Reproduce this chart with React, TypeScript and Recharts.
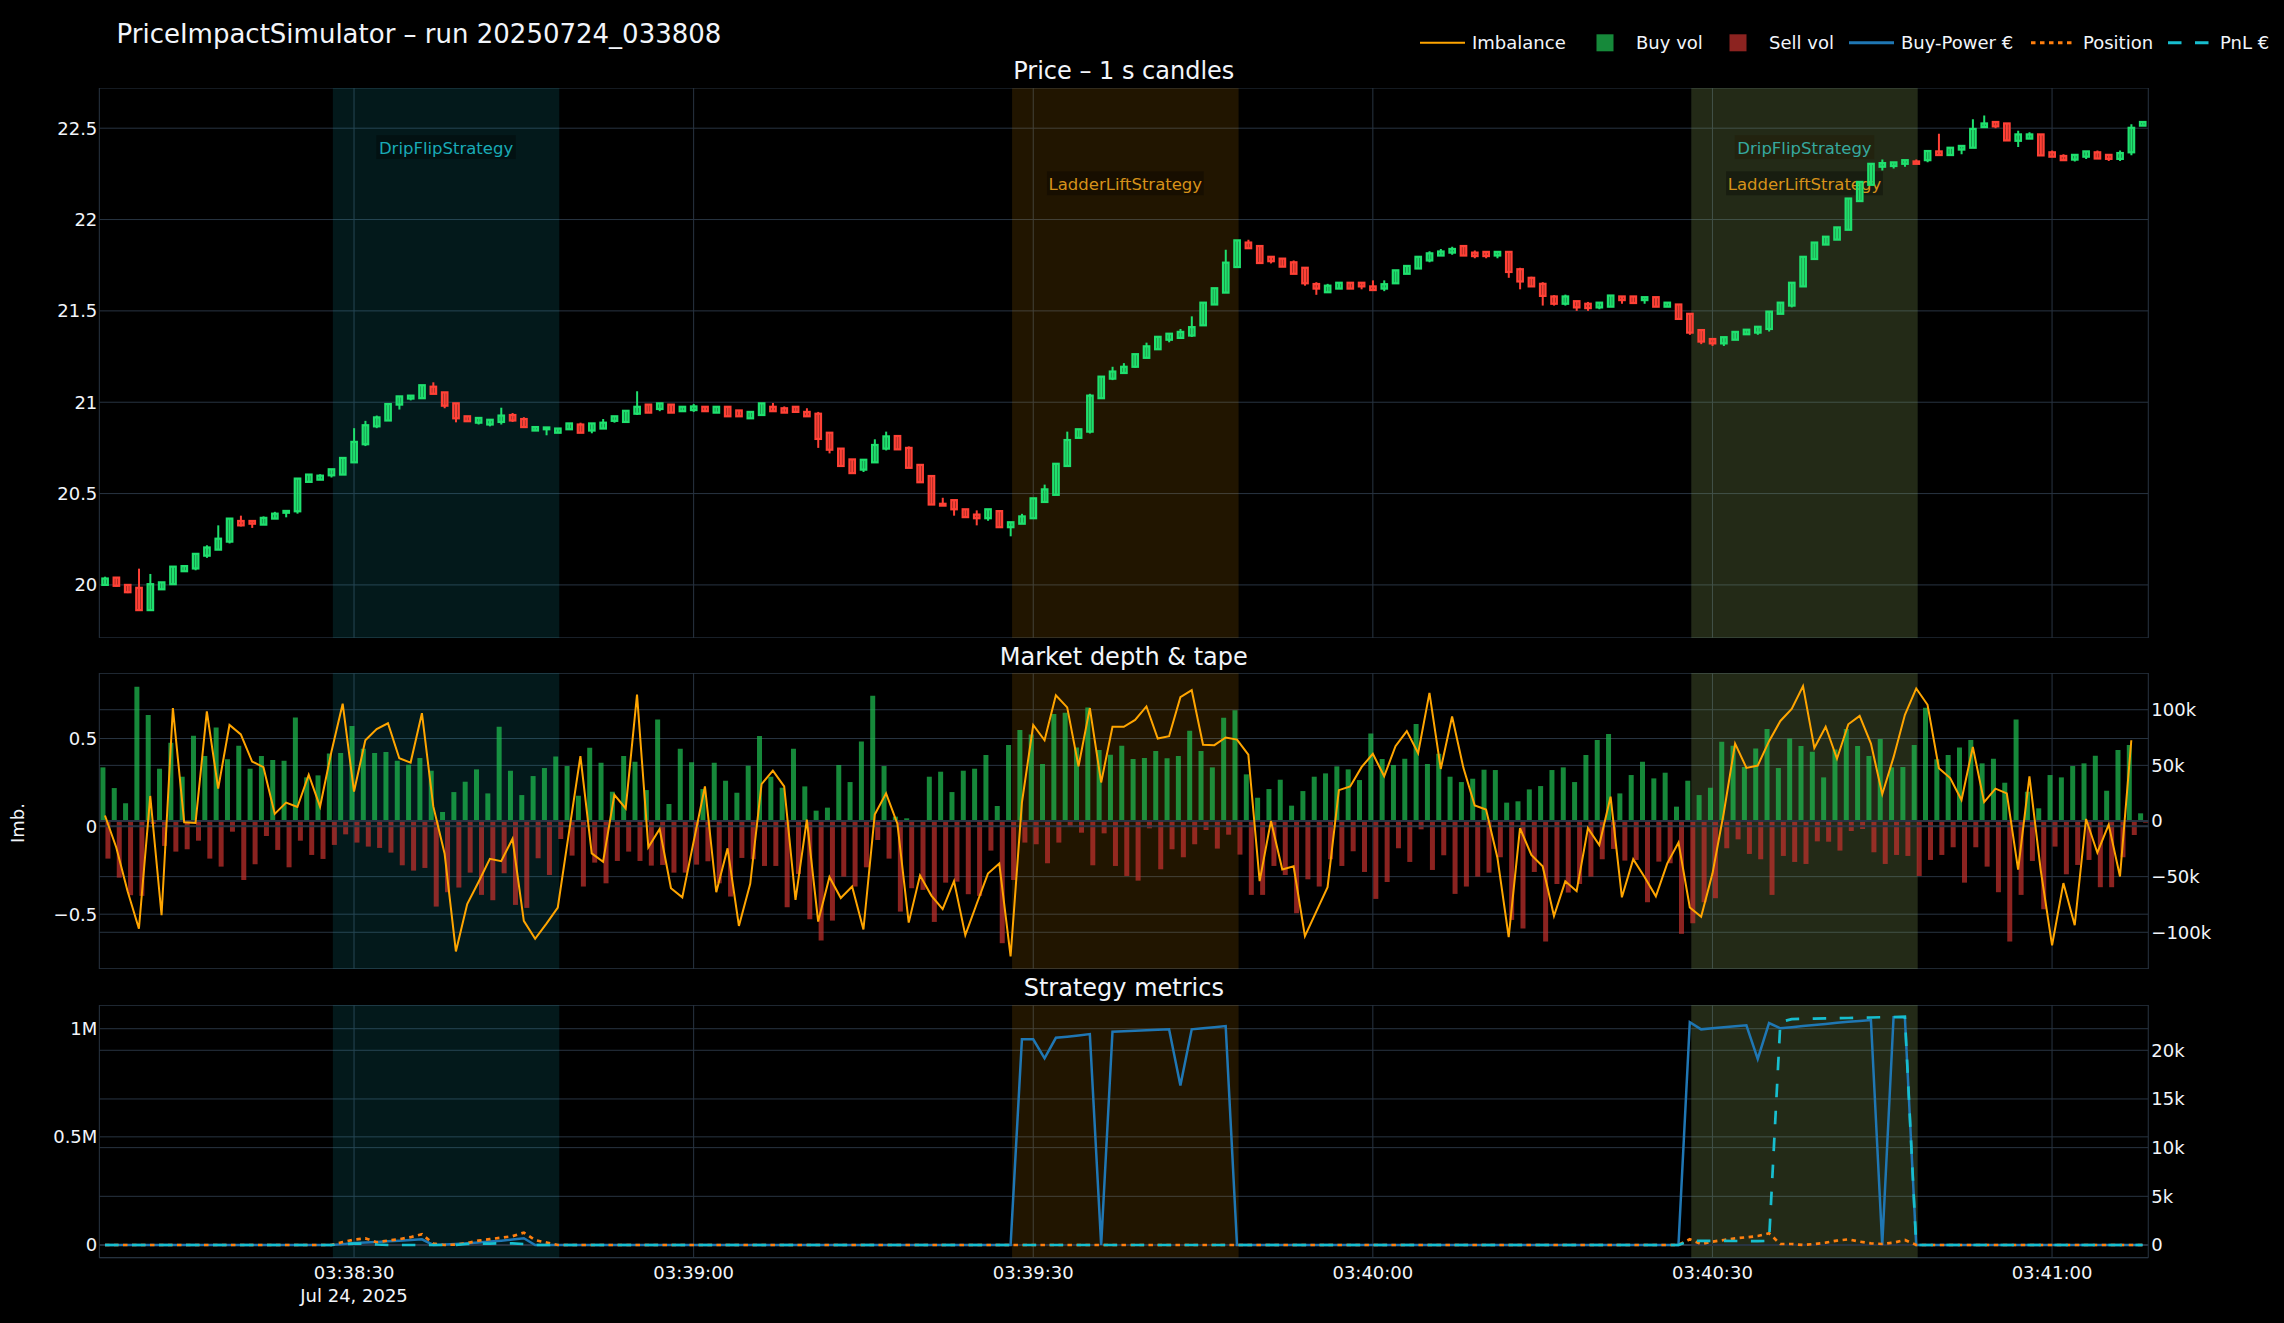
import React from 'react'
import {
  Bar,
  CartesianGrid,
  ComposedChart,
  Line,
  ReferenceArea,
  ReferenceLine,
  XAxis,
  YAxis,
} from 'recharts'

// x = seconds since 03:38:08, Jul 24 2025 (1 s candles)
const timeTicks = [22, 52, 82, 112, 142, 172]
const timeLabels = ['03:38:30', '03:39:00', '03:39:30', '03:40:00', '03:40:30', '03:41:00']
const dateLabel = 'Jul 24, 2025'

const openPx = [
  20.000, 20.040, 20.000, 19.984, 19.862, 19.976, 20.004, 20.075, 20.090, 20.160,
  20.193, 20.237, 20.350, 20.350, 20.330, 20.363, 20.395, 20.403, 20.564, 20.576,
  20.600, 20.604, 20.671, 20.770, 20.868, 20.900, 20.987, 21.020, 21.022, 21.085,
  21.054, 20.994, 20.923, 20.888, 20.878, 20.892, 20.930, 20.908, 20.845, 20.852,
  20.833, 20.852, 20.878, 20.845, 20.856, 20.898, 20.892, 20.937, 20.987, 20.963,
  20.987, 20.951, 20.957, 20.975, 20.943, 20.975, 20.955, 20.912, 20.930, 20.975,
  20.967, 20.975, 20.947, 20.937, 20.833, 20.746, 20.687, 20.631, 20.671, 20.746,
  20.815, 20.750, 20.657, 20.596, 20.444, 20.464, 20.414, 20.385, 20.365, 20.404,
  20.316, 20.335, 20.365, 20.454, 20.493, 20.651, 20.805, 20.839, 21.022, 21.129,
  21.160, 21.194, 21.243, 21.290, 21.342, 21.352, 21.365, 21.421, 21.535, 21.600,
  21.740, 21.874, 21.855, 21.796, 21.786, 21.766, 21.736, 21.647, 21.602, 21.622,
  21.654, 21.654, 21.634, 21.622, 21.651, 21.703, 21.732, 21.776, 21.803, 21.819,
  21.855, 21.819, 21.823, 21.803, 21.823, 21.728, 21.681, 21.648, 21.579, 21.539,
  21.553, 21.539, 21.519, 21.523, 21.579, 21.579, 21.559, 21.575, 21.523, 21.535,
  21.484, 21.395, 21.346, 21.322, 21.342, 21.372, 21.381, 21.401, 21.484, 21.529,
  21.634, 21.784, 21.863, 21.890, 21.944, 22.101, 22.190, 22.289, 22.293, 22.305,
  22.318, 22.325, 22.373, 22.353, 22.383, 22.393, 22.506, 22.534, 22.526, 22.431,
  22.443, 22.466, 22.368, 22.348, 22.328, 22.344, 22.368, 22.354, 22.332, 22.368, 22.514,
]
const highPx = [
  20.045, 20.040, 20.000, 20.089, 20.060, 20.014, 20.100, 20.103, 20.170, 20.217,
  20.326, 20.363, 20.379, 20.350, 20.375, 20.400, 20.405, 20.582, 20.604, 20.606,
  20.633, 20.695, 20.858, 20.898, 20.927, 20.990, 21.032, 21.036, 21.093, 21.109,
  21.054, 20.994, 20.923, 20.914, 20.904, 20.970, 20.941, 20.918, 20.864, 20.862,
  20.856, 20.884, 20.888, 20.884, 20.908, 20.923, 20.953, 21.060, 20.987, 20.994,
  20.987, 20.975, 20.990, 20.975, 20.975, 20.975, 20.955, 20.947, 20.994, 20.996,
  20.977, 20.975, 20.967, 20.947, 20.833, 20.746, 20.687, 20.685, 20.797, 20.839,
  20.815, 20.758, 20.657, 20.596, 20.477, 20.464, 20.414, 20.408, 20.414, 20.404,
  20.343, 20.389, 20.474, 20.549, 20.663, 20.839, 20.852, 21.046, 21.140, 21.194,
  21.214, 21.263, 21.326, 21.358, 21.375, 21.401, 21.470, 21.545, 21.624, 21.835,
  21.886, 21.890, 21.855, 21.796, 21.786, 21.776, 21.736, 21.657, 21.648, 21.654,
  21.654, 21.654, 21.667, 21.667, 21.722, 21.746, 21.796, 21.827, 21.839, 21.851,
  21.855, 21.831, 21.823, 21.823, 21.823, 21.736, 21.687, 21.657, 21.586, 21.589,
  21.553, 21.549, 21.545, 21.584, 21.579, 21.579, 21.575, 21.575, 21.545, 21.535,
  21.484, 21.395, 21.346, 21.356, 21.385, 21.397, 21.413, 21.496, 21.545, 21.654,
  21.796, 21.874, 21.906, 21.957, 22.115, 22.206, 22.305, 22.328, 22.313, 22.325,
  22.328, 22.375, 22.470, 22.393, 22.403, 22.549, 22.569, 22.534, 22.526, 22.486,
  22.478, 22.466, 22.378, 22.358, 22.354, 22.373, 22.378, 22.354, 22.378, 22.522, 22.534,
]
const lowPx = [
  20.000, 19.990, 19.955, 19.860, 19.860, 19.976, 20.004, 20.075, 20.080, 20.148,
  20.193, 20.227, 20.320, 20.312, 20.330, 20.363, 20.370, 20.390, 20.564, 20.576,
  20.588, 20.604, 20.671, 20.760, 20.858, 20.900, 20.960, 21.010, 21.022, 21.046,
  20.967, 20.890, 20.896, 20.878, 20.868, 20.878, 20.892, 20.864, 20.845, 20.819,
  20.833, 20.852, 20.833, 20.830, 20.856, 20.888, 20.892, 20.930, 20.943, 20.951,
  20.943, 20.951, 20.947, 20.951, 20.943, 20.923, 20.923, 20.912, 20.930, 20.951,
  20.943, 20.943, 20.923, 20.750, 20.720, 20.651, 20.612, 20.618, 20.671, 20.736,
  20.742, 20.641, 20.562, 20.440, 20.434, 20.379, 20.371, 20.326, 20.351, 20.316,
  20.266, 20.335, 20.365, 20.454, 20.493, 20.651, 20.805, 20.829, 21.022, 21.121,
  21.160, 21.188, 21.243, 21.290, 21.328, 21.352, 21.357, 21.421, 21.535, 21.600,
  21.740, 21.843, 21.762, 21.760, 21.742, 21.703, 21.638, 21.588, 21.602, 21.622,
  21.622, 21.618, 21.614, 21.608, 21.651, 21.703, 21.732, 21.766, 21.803, 21.807,
  21.803, 21.788, 21.788, 21.788, 21.681, 21.618, 21.634, 21.529, 21.529, 21.529,
  21.500, 21.500, 21.509, 21.523, 21.539, 21.543, 21.539, 21.523, 21.523, 21.456,
  21.369, 21.318, 21.308, 21.308, 21.342, 21.372, 21.369, 21.387, 21.484, 21.519,
  21.634, 21.784, 21.863, 21.890, 21.944, 22.101, 22.190, 22.269, 22.279, 22.289,
  22.305, 22.313, 22.353, 22.353, 22.357, 22.393, 22.506, 22.500, 22.433, 22.397,
  22.443, 22.351, 22.344, 22.325, 22.318, 22.332, 22.334, 22.320, 22.320, 22.352, 22.514,
]
const closePx = [
  20.035, 19.995, 19.960, 19.862, 20.004, 20.014, 20.100, 20.103, 20.170, 20.205,
  20.253, 20.363, 20.326, 20.335, 20.367, 20.390, 20.405, 20.582, 20.604, 20.598,
  20.633, 20.695, 20.783, 20.874, 20.917, 20.990, 21.032, 21.036, 21.093, 21.046,
  20.981, 20.912, 20.896, 20.914, 20.904, 20.927, 20.900, 20.864, 20.864, 20.862,
  20.856, 20.884, 20.833, 20.884, 20.888, 20.923, 20.953, 20.975, 20.943, 20.994,
  20.943, 20.975, 20.977, 20.951, 20.975, 20.923, 20.923, 20.947, 20.994, 20.951,
  20.943, 20.947, 20.923, 20.799, 20.740, 20.651, 20.612, 20.685, 20.766, 20.813,
  20.742, 20.641, 20.562, 20.440, 20.434, 20.414, 20.371, 20.365, 20.414, 20.316,
  20.343, 20.375, 20.474, 20.523, 20.663, 20.793, 20.852, 21.036, 21.140, 21.168,
  21.194, 21.263, 21.306, 21.358, 21.375, 21.385, 21.411, 21.545, 21.624, 21.764,
  21.886, 21.843, 21.762, 21.772, 21.742, 21.703, 21.651, 21.622, 21.638, 21.654,
  21.622, 21.634, 21.614, 21.646, 21.722, 21.746, 21.796, 21.815, 21.825, 21.839,
  21.803, 21.800, 21.800, 21.823, 21.713, 21.661, 21.634, 21.582, 21.539, 21.579,
  21.519, 21.515, 21.545, 21.584, 21.559, 21.543, 21.575, 21.523, 21.545, 21.456,
  21.381, 21.332, 21.322, 21.356, 21.385, 21.397, 21.413, 21.496, 21.545, 21.654,
  21.796, 21.874, 21.906, 21.957, 22.115, 22.206, 22.305, 22.309, 22.313, 22.325,
  22.305, 22.375, 22.353, 22.393, 22.403, 22.496, 22.526, 22.510, 22.433, 22.466,
  22.466, 22.351, 22.344, 22.325, 22.354, 22.373, 22.334, 22.332, 22.364, 22.502, 22.534,
]

// tape volume, thousands
const buyVol = [
  48.2, 29.6, 15.9, 120.6, 95.2, 47.0, 70.3, 39.8, 76.6, 58.3,
  84.1, 55.4, 67.6, 47.0, 58.3, 54.8, 54.2, 93.1, 39.2, 41.0,
  60.7, 61.0, 85.3, 64.9, 61.0, 61.9, 54.2, 50.6, 56.6, 45.2,
  8.1, 26.0, 35.3, 46.4, 24.8, 84.7, 45.2, 23.3, 40.4, 47.6,
  58.0, 49.4, 22.7, 65.8, 52.4, 26.3, 58.3, 53.3, 27.8, 91.3,
  15.3, 64.9, 52.7, 28.7, 52.4, 36.2, 25.4, 49.7, 76.3, 39.8,
  29.9, 64.9, 31.1, 9.3, 12.0, 50.3, 35.0, 71.5, 112.5, 49.4,
  3.9, 2.4, 0.9, 39.8, 44.3, 26.0, 45.2, 47.0, 59.2, 13.5,
  68.2, 81.7, 77.8, 51.2, 96.1, 97.2, 66.1, 102.0, 63.7, 59.5,
  67.6, 55.7, 56.6, 62.8, 56.3, 58.3, 81.1, 62.8, 48.2, 92.8,
  99.6, 41.9, 20.9, 28.7, 37.1, 13.8, 26.9, 39.8, 42.8, 49.1,
  46.4, 36.8, 78.7, 55.7, 50.3, 56.0, 87.1, 51.2, 60.4, 39.8,
  35.0, 38.0, 46.1, 45.8, 16.5, 17.7, 28.4, 31.4, 45.8, 48.2,
  35.0, 59.2, 72.7, 78.1, 24.8, 41.3, 53.3, 38.3, 43.4, 12.9,
  36.2, 23.3, 29.9, 71.2, 67.6, 48.5, 65.2, 82.6, 47.6, 74.2,
  67.3, 62.2, 39.2, 64.3, 82.6, 67.3, 58.3, 73.6, 48.2, 48.5,
  68.2, 101.7, 55.4, 59.2, 66.1, 72.7, 51.8, 56.0, 34.4, 91.3,
  26.3, 11.4, 41.3, 39.2, 49.4, 51.8, 58.6, 27.2, 63.7, 68.2, 6.9,
]
const sellVol = [
  -33.8, -50.9, -66.7, -67.3, -2.7, -22.4, -27.5, -25.4, -17.7, -33.8,
  -41.0, -9.6, -53.0, -38.9, -13.5, -26.0, -41.6, -17.7, -30.5, -34.1,
  -21.5, -12.0, -19.4, -23.0, -24.2, -28.4, -39.8, -44.6, -42.2, -76.9,
  -64.0, -59.8, -46.4, -66.4, -71.2, -47.0, -75.4, -78.1, -33.5, -48.5,
  -16.2, -31.1, -58.9, -37.4, -56.0, -35.9, -27.5, -35.9, -40.1, -39.5,
  -46.4, -46.4, -39.2, -36.2, -56.0, -67.9, -33.2, -34.4, -40.4, -40.4,
  -77.5, -47.6, -88.3, -107.4, -89.5, -50.0, -58.9, -41.6, -17.1, -33.8,
  -81.4, -60.4, -61.9, -90.7, -55.4, -54.5, -65.8, -67.3, -26.6, -109.8,
  -53.0, -19.4, -20.9, -38.0, -19.4, -5.1, -10.5, -39.8, -11.1, -40.4,
  -49.4, -53.6, -6.6, -43.4, -25.4, -32.6, -20.9, -8.1, -24.8, -12.3,
  -30.2, -66.4, -66.4, -40.4, -48.5, -82.9, -52.4, -58.9, -34.4, -40.4,
  -27.2, -45.8, -70.0, -54.8, -24.5, -36.8, -7.5, -44.0, -30.8, -65.5,
  -58.9, -50.0, -46.4, -32.6, -88.9, -96.6, -45.8, -108.3, -56.6, -64.3,
  -56.6, -50.0, -34.4, -25.1, -35.6, -35.0, -73.0, -36.5, -38.0, -101.4,
  -91.9, -73.0, -69.4, -24.5, -16.5, -29.6, -34.4, -66.4, -31.4, -36.8,
  -38.6, -18.3, -18.6, -26.6, -9.0, -7.2, -28.1, -38.6, -30.5, -31.4,
  -49.4, -35.0, -30.5, -23.6, -55.4, -23.6, -41.0, -64.0, -108.3, -66.4,
  -35.9, -79.3, -23.0, -47.9, -39.5, -35.0, -59.5, -59.5, -32.6, -12.6, -1.5,
]
const imbalance = [
  0.062, -0.12, -0.37, -0.583, 0.173, -0.506, 0.673, 0.023, 0.019, 0.654,
  0.215, 0.577, 0.523, 0.369, 0.337, 0.071, 0.135, 0.110, 0.294, 0.112,
  0.423, 0.698, 0.198, 0.490, 0.554, 0.587, 0.388, 0.363, 0.644, 0.115,
  -0.154, -0.712, -0.442, -0.317, -0.185, -0.198, -0.071, -0.538, -0.640, -0.554,
  -0.462, -0.03, 0.400, -0.154, -0.202, 0.179, 0.102, 0.75, -0.119, -0.015,
  -0.352, -0.404, -0.087, 0.227, -0.375, -0.125, -0.567, -0.327, 0.240, 0.317,
  0.227, -0.419, 0.038, -0.542, -0.288, -0.408, -0.342, -0.587, 0.067, 0.188,
  0.015, -0.548, -0.279, -0.394, -0.471, -0.312, -0.619, -0.442, -0.269, -0.212,
  -0.740, 0.135, 0.577, 0.490, 0.746, 0.677, 0.342, 0.673, 0.25, 0.567,
  0.567, 0.606, 0.683, 0.5, 0.513, 0.735, 0.775, 0.465, 0.462, 0.506,
  0.494, 0.408, -0.312, 0.031, -0.246, -0.227, -0.625, -0.485, -0.346, 0.206,
  0.227, 0.337, 0.413, 0.285, 0.456, 0.542, 0.417, 0.760, 0.327, 0.625,
  0.333, 0.119, 0.096, -0.177, -0.631, -0.010, -0.163, -0.227, -0.510, -0.313,
  -0.369, -0.010, -0.106, 0.169, -0.404, -0.187, -0.288, -0.398, -0.212, -0.092,
  -0.462, -0.515, -0.269, 0.077, 0.471, 0.333, 0.346, 0.485, 0.6, 0.669,
  0.798, 0.446, 0.567, 0.385, 0.581, 0.629, 0.471, 0.183, 0.394, 0.635,
  0.785, 0.692, 0.331, 0.275, 0.15, 0.452, 0.138, 0.215, 0.188, -0.246,
  0.285, -0.25, -0.677, -0.323, -0.563, 0.042, -0.15, 0.01, -0.285, 0.490, null,
]

// strategy metrics: buy power in k€, position and PnL in thousands
const buyPower = [
  0, 0, 0, 0, 0, 0, 0, 0, 0, 0, 0, 0, 0, 0, 0, 0, 0, 0, 0, 0,
  0, 4, 9, 12, 14, 17, 20, 23, 26, 0, 2, 5, 8, 12, 16, 20, 25, 31, 0, 0,
  0, 0, 0, 0, 0, 0, 0, 0, 0, 0, 0, 0, 0, 0, 0, 0, 0, 0, 0, 0,
  0, 0, 0, 0, 0, 0, 0, 0, 0, 0, 0, 0, 0, 0, 0, 0, 0, 0, 0, 0,
  0, 951, 951, 863, 958, 963, 969, 975, 0, 986, 988, 990, 993, 995, 997, 737, 997, 1002, 1007, 1012,
  0, 0, 0, 0, 0, 0, 0, 0, 0, 0, 0, 0, 0, 0, 0, 0, 0, 0, 0, 0,
  0, 0, 0, 0, 0, 0, 0, 0, 0, 0, 0, 0, 0, 0, 0, 0, 0, 0, 0, 0,
  1030, 997, 1002, 1007, 1011, 1016, 860, 1026, 1002, 1007, 1012, 1017, 1022, 1027, 1032, 1036, 1040, 0, 1053, 1053,
  0, 0, 0, 0, 0, 0, 0, 0, 0, 0, 0, 0, 0, 0, 0, 0, 0, 0, 0, 0, 0,
]
const position = [
  0, 0, 0, 0, 0, 0, 0, 0, 0, 0, 0, 0, 0, 0, 0, 0, 0, 0, 0, 0,
  0, 0.30, 0.55, 0.68, 0.27, 0.45, 0.60, 0.80, 1.10, 0.15, 0, 0.05, 0.20, 0.45, 0.60, 0.75, 0.90, 1.27, 0.50, 0.25,
  0, 0, 0, 0, 0, 0, 0, 0, 0, 0, 0, 0, 0, 0, 0, 0, 0, 0, 0, 0,
  0, 0, 0, 0, 0, 0, 0, 0, 0, 0, 0, 0, 0, 0, 0, 0, 0, 0, 0, 0,
  0, 0, 0, 0, 0, 0, 0, 0, 0, 0, 0, 0, 0, 0, 0, 0, 0, 0, 0, 0,
  0, 0, 0, 0, 0, 0, 0, 0, 0, 0, 0, 0, 0, 0, 0, 0, 0, 0, 0, 0,
  0, 0, 0, 0, 0, 0, 0, 0, 0, 0, 0, 0, 0, 0, 0, 0, 0, 0, 0, 0,
  0.58, 0.10, 0.34, 0.51, 0.68, 0.79, 0.92, 1.20, 0.10, 0.10, 0, 0.10, 0.24, 0.45, 0.58, 0.34, 0.17, 0.10, 0.24, 0.51,
  0, 0, 0, 0, 0, 0, 0, 0, 0, 0, 0, 0, 0, 0, 0, 0, 0, 0, 0, 0, 0,
]
const pnl = [
  0, 0, 0, 0, 0, 0, 0, 0, 0, 0, 0, 0, 0, 0, 0, 0, 0, 0, 0, 0,
  0, 0.10, 0.15, 0.15, 0.05, 0, 0, 0, 0, 0, 0, 0, 0.10, 0.15, 0.15, 0.17, 0.17, 0.10, 0, 0,
  0, 0, 0, 0, 0, 0, 0, 0, 0, 0, 0, 0, 0, 0, 0, 0, 0, 0, 0, 0,
  0, 0, 0, 0, 0, 0, 0, 0, 0, 0, 0, 0, 0, 0, 0, 0, 0, 0, 0, 0,
  0, 0, 0, 0, 0, 0, 0, 0, 0, 0, 0, 0, 0, 0, 0, 0, 0, 0, 0, 0,
  0, 0, 0, 0, 0, 0, 0, 0, 0, 0, 0, 0, 0, 0, 0, 0, 0, 0, 0, 0,
  0, 0, 0, 0, 0, 0, 0, 0, 0, 0, 0, 0, 0, 0, 0, 0, 0, 0, 0, 0,
  0.45, 0.43, 0.42, 0.42, 0.41, 0.41, 0.40, 0.42, 22.9, 23.2, 23.23, 23.25, 23.28, 23.3, 23.32, 23.35, 23.37, 23.4, 23.42, 23.45,
  0, 0, 0, 0, 0, 0, 0, 0, 0, 0, 0, 0, 0, 0, 0, 0, 0, 0, 0, 0, 0,
]

const strategies = [
  { name: 'DripFlipStrategy', start: 20.13, end: 40.13 },
  { name: 'LadderLiftStrategy', start: 80.13, end: 100.14 },
  { name: 'DripFlipStrategy', start: 140.13, end: 160.13 },
  { name: 'LadderLiftStrategy', start: 140.13, end: 160.13 },
]

const W = 2284
const H = 1323
const GRID = '#283442'
const FG = '#f2f5fa'
const UP = '#1fe06e'
const DOWN = '#ff4136'
const BUY = 'rgba(30,190,80,0.72)'
const SELL = 'rgba(200,50,45,0.7)'
const IMB = '#ffa500'
const BP = '#1f77b4'
const POS = '#ff7f0e'
const PNL = '#17becf'

const stratStyle: Record<string, { fill: string; text: string; top: number }> = {
  DripFlipStrategy: { fill: '#17becf', text: '#19aab6', top: 47.1 },
  LadderLiftStrategy: { fill: '#ffa500', text: '#d6921a', top: 83.3 },
}

const rows = openPx.map((o, i) => ({
  i,
  open: o,
  high: highPx[i],
  low: lowPx[i],
  close: closePx[i],
  buy: buyVol[i],
  sell: sellVol[i],
  imb: imbalance[i],
  bp: buyPower[i],
  pos: position[i],
  pnl: pnl[i],
}))

const LEFT = 99.3
const RIGHT = 135.7
const tickStyle = { fill: FG, fontSize: 18 }
const minus = (s: string) => s.replace('-', '\u2212')

const Candle = (props: any) => {
  const { x, y, width, height, payload } = props
  if (!payload) return null
  const top = Math.min(y, y + height)
  const h = Math.abs(height)
  const span = payload.high - payload.low
  const k = span > 0 ? h / span : 0
  const yOf = (v: number) => top + (payload.high - v) * k
  const c = payload.close >= payload.open ? UP : DOWN
  const b1 = yOf(Math.max(payload.open, payload.close))
  const b2 = yOf(Math.min(payload.open, payload.close))
  const cx = x + width / 2
  return (
    <g>
      <line x1={cx} x2={cx} y1={top} y2={top + h} stroke={c} strokeWidth={2} />
      <rect x={x} y={b1} width={width} height={Math.max(b2 - b1, 0.8)} fill={c} fillOpacity={0.5} stroke={c} strokeWidth={2.2} />
    </g>
  )
}

const StratLabel = ({ viewBox, name }: any) => {
  if (!viewBox) return null
  const st = stratStyle[name]
  const cx = viewBox.x + viewBox.width / 2
  const w = name.length * 8.6 + 2
  const top = viewBox.y + st.top
  return (
    <g>
      <rect x={cx - w / 2} y={top} width={w} height={24} fill='rgba(0,0,0,0.3)' />
      <text x={cx} y={top + 13} textAnchor='middle' dominantBaseline='central' fill={st.text} fontSize={16.5}>
        {name}
      </text>
    </g>
  )
}

const TimeTick = (props: any) => {
  const { x, y, payload } = props
  const k = timeTicks.indexOf(payload.value)
  return (
    <g>
      <text x={x} y={y + 19} textAnchor='middle' fill={FG} fontSize={18}>
        {timeLabels[k]}
      </text>
      {k === 0 && (
        <text x={x} y={y + 42} textAnchor='middle' fill={FG} fontSize={18}>
          {dateLabel}
        </text>
      )}
    </g>
  )
}

const regions = (yAxisId: any, withLabel: boolean) =>
  strategies.map((s, n) => (
    <ReferenceArea
      key={'r' + n}
      x1={s.start}
      x2={s.end}
      yAxisId={yAxisId}
      fill={stratStyle[s.name].fill}
      fillOpacity={0.13}
      stroke='none'
      label={withLabel ? (p: any) => <StratLabel viewBox={p.viewBox} name={s.name} /> : undefined}
    />
  ))

const timeAxis = (hide: boolean) => (
  <XAxis
    xAxisId={0}
    dataKey='i'
    type='number'
    domain={[-0.5, 180.5]}
    allowDataOverflow
    ticks={timeTicks}
    hide={hide}
    axisLine={false}
    tickLine={false}
    tickSize={0}
    height={60}
    tick={(p: any) => <TimeTick {...p} />}
  />
)

const legendItems = [
  { label: 'Imbalance', kind: 'line', color: IMB, width: 2, dash: '' },
  { label: 'Buy vol', kind: 'box', color: BUY, width: 0, dash: '' },
  { label: 'Sell vol', kind: 'box', color: SELL, width: 0, dash: '' },
  { label: 'Buy-Power €', kind: 'line', color: BP, width: 3, dash: '' },
  { label: 'Position', kind: 'line', color: POS, width: 3, dash: '4.5 4.5' },
  { label: 'PnL €', kind: 'line', color: PNL, width: 3, dash: '13.5 13.5' },
]
const legendX = [1420, 1584, 1717, 1849, 2031, 2168]
const LEGEND_Y = 42.8

const panelTitles = [
  { text: 'Price – 1 s candles', y: 71.4 },
  { text: 'Market depth & tape', y: 657 },
  { text: 'Strategy metrics', y: 987.6 },
]

export default function App() {
  const midX = LEFT + (W - LEFT - RIGHT) / 2
  return (
    <div
      style={{
        position: 'absolute',
        left: 0,
        top: 0,
        width: W,
        height: H,
        background: '#000',
        fontFamily: '"DejaVu Sans", Verdana, sans-serif',
        overflow: 'hidden',
      }}>
      <div style={{ position: 'absolute', left: 0, top: 87.9 }}>
        <ComposedChart width={W} height={549.9} data={rows} margin={{ top: 0, right: RIGHT, bottom: 0, left: 0 }}>
          <CartesianGrid stroke={GRID} xAxisId={0} yAxisId={0} />
          {timeAxis(true)}
          <XAxis xAxisId='cat' dataKey='i' type='category' hide />
          <YAxis
            yAxisId={0}
            domain={[19.71, 22.72]}
            allowDataOverflow
            ticks={[20, 20.5, 21, 21.5, 22, 22.5]}
            width={LEFT}
            axisLine={false}
            tickLine={false}
            tickSize={0}
            tickMargin={2}
            tick={tickStyle}
          />
          {regions(0, true)}
          <Bar
            xAxisId='cat'
            yAxisId={0}
            dataKey={(d: any) => [d.low, d.high]}
            barSize={5.5}
            shape={(p: any) => <Candle {...p} />}
            isAnimationActive={false}
          />
        </ComposedChart>
      </div>

      <div style={{ position: 'absolute', left: 0, top: 673.3 }}>
        <ComposedChart
          width={W}
          height={296}
          data={rows}
          margin={{ top: 0, right: 0, bottom: 0, left: 0 }}
          barCategoryGap='10%'
          barGap={0}>
          <CartesianGrid stroke={GRID} xAxisId={0} yAxisId='imb' />
          <CartesianGrid stroke={GRID} xAxisId={0} yAxisId='vol' vertical={false} />
          {timeAxis(true)}
          <XAxis xAxisId='cat' dataKey='i' type='category' hide />
          <YAxis
            yAxisId='imb'
            domain={[-0.812, 0.873]}
            allowDataOverflow
            ticks={[-0.5, 0, 0.5]}
            tickFormatter={(v: number) => minus(String(v))}
            width={LEFT}
            axisLine={false}
            tickLine={false}
            tickSize={0}
            tickMargin={2}
            tick={tickStyle}
          />
          <YAxis
            yAxisId='vol'
            orientation='right'
            domain={[-133, 133]}
            allowDataOverflow
            ticks={[-100, -50, 0, 50, 100]}
            tickFormatter={(v: number) => (v === 0 ? '0' : minus(v + 'k'))}
            width={RIGHT}
            axisLine={false}
            tickLine={false}
            tickSize={0}
            tickMargin={3}
            tick={tickStyle}
          />
          {regions('imb', false)}
          <ReferenceLine yAxisId='imb' y={0} stroke={GRID} strokeWidth={2} />
          <ReferenceLine yAxisId='vol' y={0} stroke={GRID} strokeWidth={2} />
          <Line
            xAxisId={0}
            yAxisId='imb'
            dataKey='imb'
            stroke={IMB}
            strokeWidth={2}
            dot={false}
            isAnimationActive={false}
          />
          <Bar xAxisId='cat' yAxisId='vol' dataKey='buy' fill={BUY} isAnimationActive={false} />
          <Bar xAxisId='cat' yAxisId='vol' dataKey='sell' fill={SELL} isAnimationActive={false} />
        </ComposedChart>
      </div>

      <div style={{ position: 'absolute', left: 0, top: 1005 }}>
        <ComposedChart width={W} height={312.7} data={rows} margin={{ top: 0, right: 0, bottom: 0, left: 0 }}>
          <CartesianGrid stroke={GRID} xAxisId={0} yAxisId='bp' />
          <CartesianGrid stroke={GRID} xAxisId={0} yAxisId='pnl' vertical={false} />
          {timeAxis(false)}
          <YAxis
            yAxisId='bp'
            domain={[-58.7, 1109.6]}
            allowDataOverflow
            ticks={[0, 500, 1000]}
            tickFormatter={(v: number) => (v === 0 ? '0' : v / 1000 + 'M')}
            width={LEFT}
            axisLine={false}
            tickLine={false}
            tickSize={0}
            tickMargin={2}
            tick={tickStyle}
          />
          <YAxis
            yAxisId='pnl'
            orientation='right'
            domain={[-1.305, 24.653]}
            allowDataOverflow
            ticks={[0, 5, 10, 15, 20]}
            tickFormatter={(v: number) => (v === 0 ? '0' : v + 'k')}
            width={RIGHT}
            axisLine={false}
            tickLine={false}
            tickSize={0}
            tickMargin={3}
            tick={tickStyle}
          />
          {regions('bp', false)}
          <ReferenceLine yAxisId='bp' y={0} stroke={GRID} strokeWidth={2} />
          <Line xAxisId={0} yAxisId='bp' dataKey='bp' stroke={BP} strokeWidth={2.5} dot={false} isAnimationActive={false} />
          <Line
            xAxisId={0}
            yAxisId='pnl'
            dataKey='pos'
            stroke={POS}
            strokeWidth={2.7}
            strokeDasharray='4.5 4.5'
            dot={false}
            isAnimationActive={false}
          />
          <Line
            xAxisId={0}
            yAxisId='pnl'
            dataKey='pnl'
            stroke={PNL}
            strokeWidth={2.7}
            strokeDasharray='13.5 13.5'
            dot={false}
            isAnimationActive={false}
          />
        </ComposedChart>
      </div>

      <svg width={W} height={H} style={{ position: 'absolute', left: 0, top: 0, pointerEvents: 'none' }}>
        <text x={116.5} y={33.5} fontSize={26} fill={FG} dominantBaseline='central'>
          PriceImpactSimulator – run 20250724_033808
        </text>
        {panelTitles.map((t) => (
          <text key={t.text} x={midX} y={t.y} fontSize={24} fill={FG} textAnchor='middle' dominantBaseline='central'>
            {t.text}
          </text>
        ))}
        {legendItems.map((it, n) => {
          const x0 = legendX[n]
          return (
            <g key={it.label}>
              {it.kind === 'line' ? (
                <line
                  x1={x0}
                  x2={x0 + 45}
                  y1={LEGEND_Y}
                  y2={LEGEND_Y}
                  stroke={it.color}
                  strokeWidth={it.width}
                  strokeDasharray={it.dash || undefined}
                />
              ) : (
                <rect x={x0 + 12.5} y={LEGEND_Y - 8.5} width={17} height={17} fill={it.color} />
              )}
              <text x={x0 + 52} y={LEGEND_Y} fontSize={18} fill={FG} dominantBaseline='central'>
                {it.label}
              </text>
            </g>
          )
        })}
        <text transform='translate(17.5,823) rotate(-90)' fontSize={18} fill={FG} textAnchor='middle' dominantBaseline='central'>
          Imb.
        </text>
      </svg>
    </div>
  )
}
